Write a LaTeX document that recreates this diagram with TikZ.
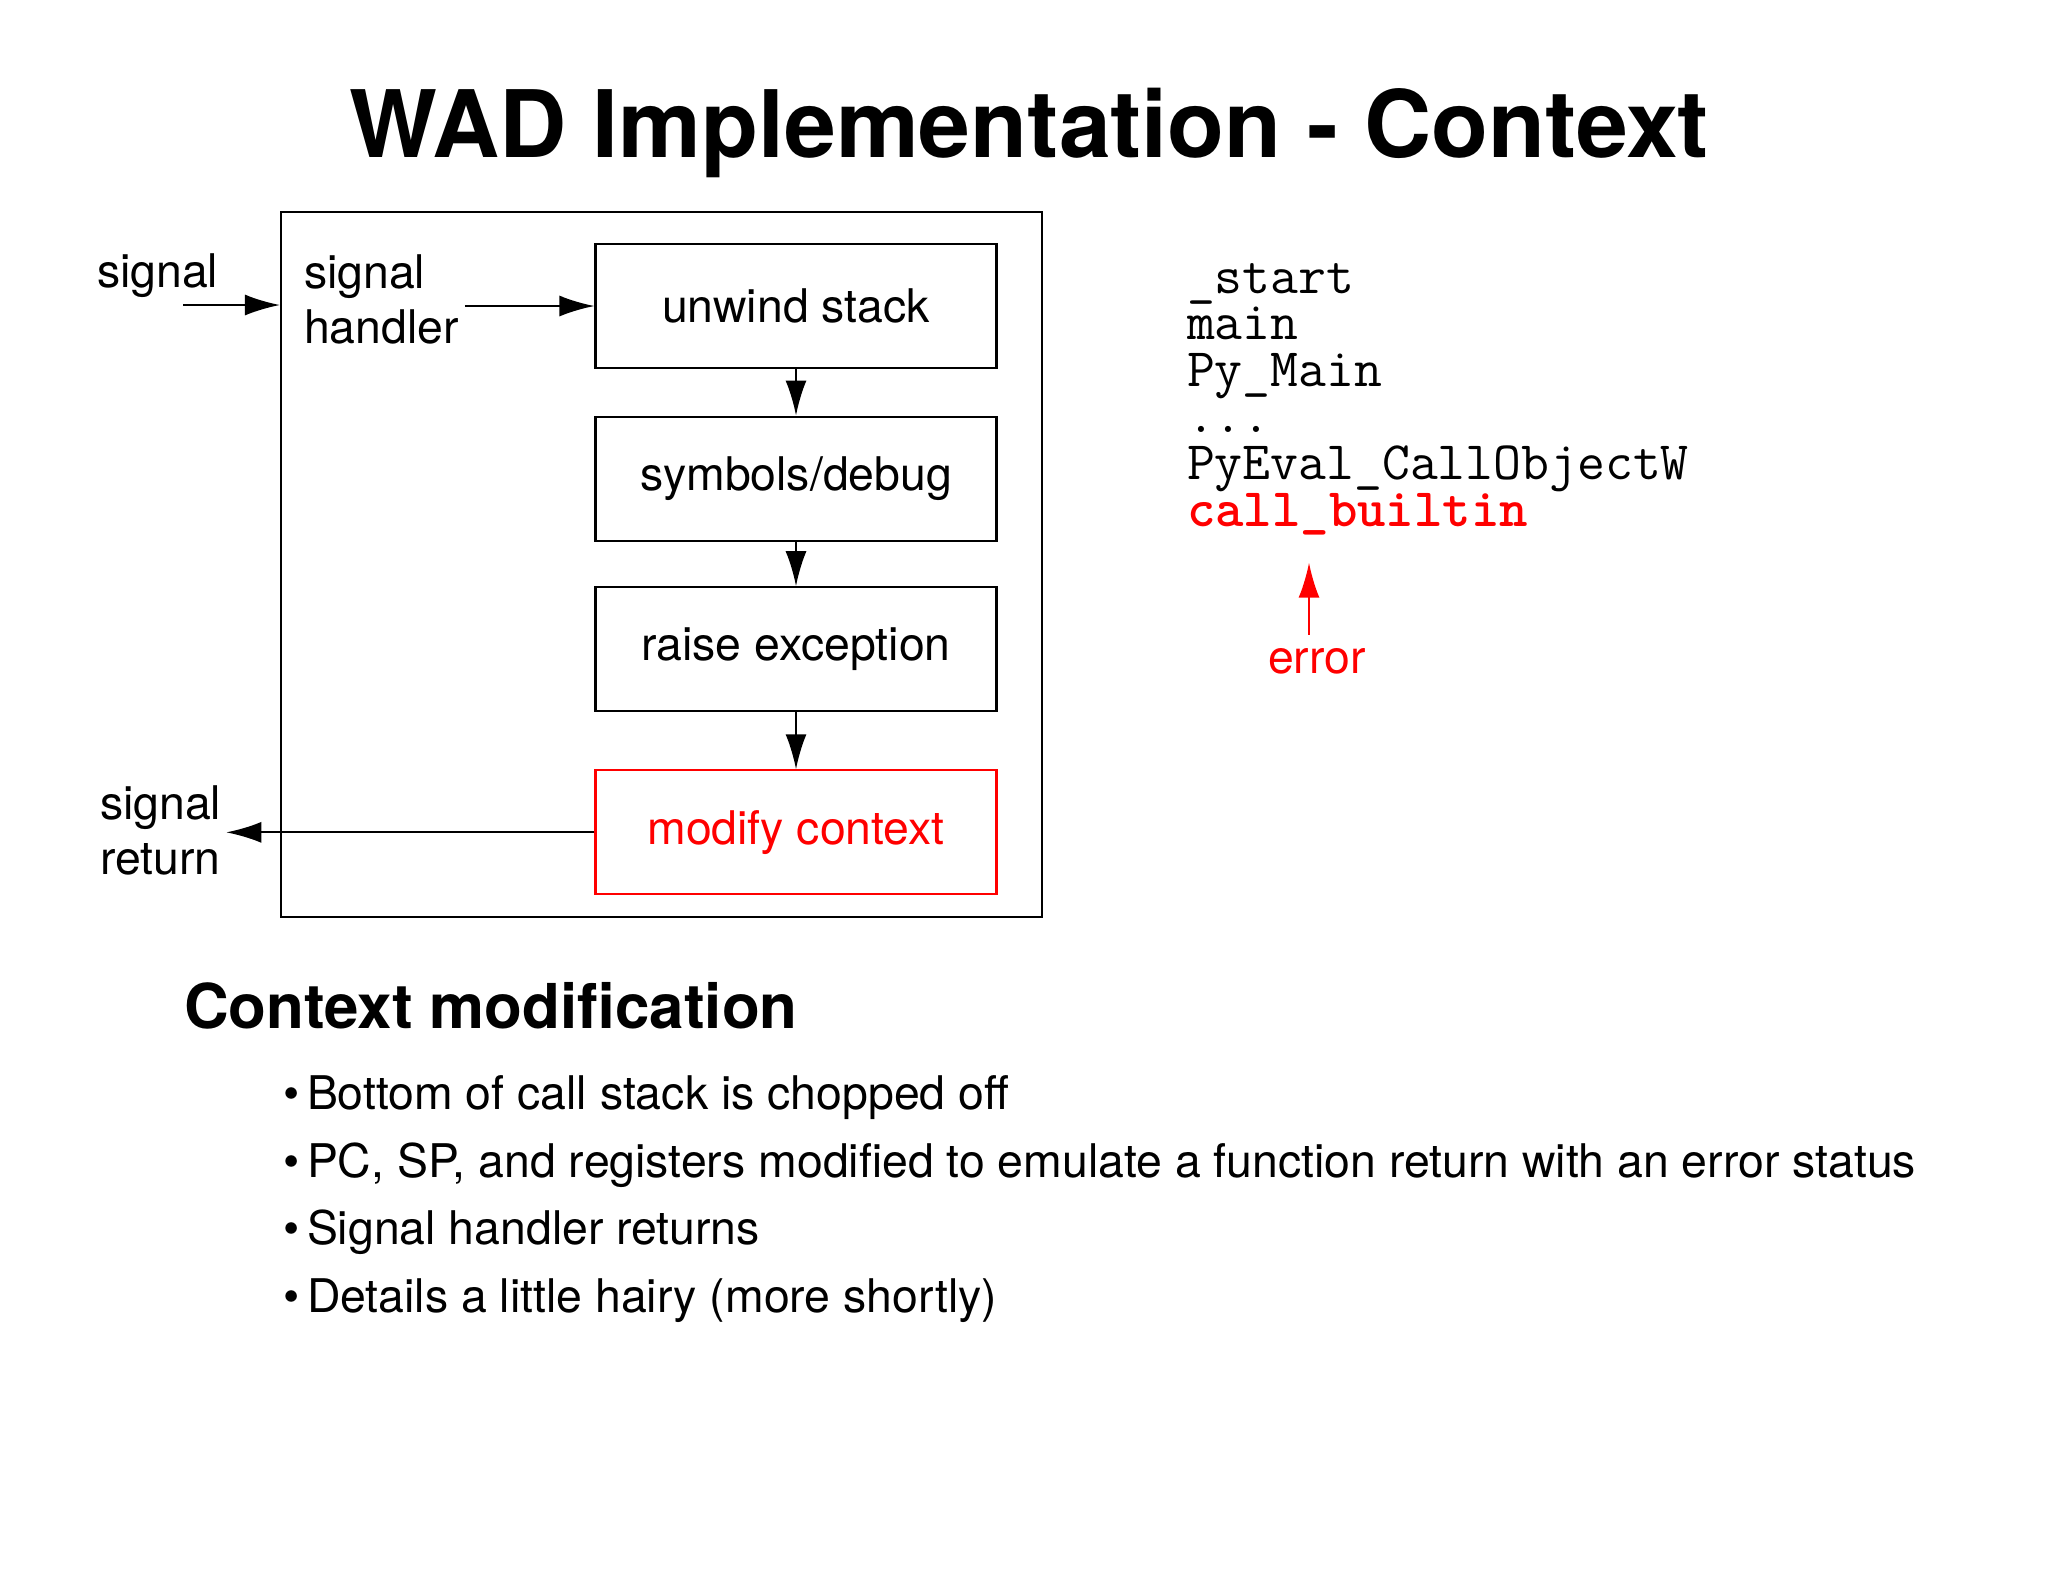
\documentclass[tikz,border=0pt]{standalone}
\usepackage{fontspec}
\setmainfont{TeX Gyre Heros}
\usetikzlibrary{positioning,arrows.meta}

\begin{document}
\begin{tikzpicture}[
                            x=0.1mm, y=-0.1mm,
                            node distance=5mm,
                            >={Latex[length=3.5mm,width=2.1mm]},
                            line width=0.6pt,
                            txt/.style={font=\fontsize{13.2}{15.6}\selectfont, inner sep=0pt},
                            stepbox/.style={rectangle, draw, minimum width=40.1mm, minimum height=12.4mm, inner sep=0pt, font=\fontsize{13.2}{15.6}\selectfont},
                            code/.style={anchor=base west, inner sep=0pt, align=left, font=\ttfamily\fontsize{15.4}{13.26}\selectfont},
                            bullet/.style={anchor=base west, inner sep=0pt, font=\fontsize{13.2}{15.6}\selectfont}
                        ]
                        \useasboundingbox (0,0) rectangle (2048,1582);

                        % Title
                        \node [anchor=base, font=\bfseries\fontsize{26.5}{30}\selectfont] (title) at (1029,157) {WAD Implementation - Context};

                        % Blocks
                        \node [rectangle, draw, minimum width=76.1mm, minimum height=70.5mm] (handlerbox) at (661.5,564.5) {};
                        \node [stepbox] (unwind) at (796,306) {unwind stack};
                        \node [stepbox, below=4.65mm of unwind] (symbols) {symbols/debug};
                        \node [stepbox, below=4.45mm of symbols] (raise) {raise exception};
                        \node [stepbox, below=5.7mm of raise, draw=red, text=red] (modify) {modify context};

                        % Labels
                        \node [txt, anchor=base west] (signal) at (96,287) {signal};
                        \node [txt, anchor=north west, align=left] (handler) at (303,254) {signal\\handler};
                        \node [txt, anchor=north west, align=left] (sigret) at (99,785) {signal\\return};
                        \coordinate (sigin) at (183,305);

                        % Call stack (base = last line)
                        \node [code] (callstack) at (1186,526) {\_start\\main\\Py\_Main\\...\\PyEval\_CallObjectW\\\textcolor{red}{\bfseries call\_builtin}};
                        \node [txt, anchor=base, text=red, inner sep=1.2mm] (error) at (1317,673) {error};

                        % Connections
                        \draw [->] (sigin) -- (sigin -| handlerbox.west);
                        \draw [->] ([xshift=0.5mm]handler.east |- unwind.west) -- (unwind.west);
                        \draw [->] (unwind) -- (symbols);
                        \draw [->] (symbols) -- (raise);
                        \draw [->] (raise) -- (modify);
                        \draw [->] (modify.west) -- ([xshift=0.4mm]sigret.east |- modify.west);
                        \draw [->, red, shorten >=2.7mm] ([xshift=-0.8mm]error.north) -- ([xshift=-0.8mm]error.north |- callstack.south);

                        % Context modification
                        \node [anchor=base west, inner sep=0pt, font=\bfseries\fontsize{17.6}{21}\selectfont] (ctxmod) at (183,1028) {Context modification};
                        \node [bullet] (item1) at (282,1109) {\makebox[2.4mm][l]{\textbullet}Bottom of call stack is chopped off};
                        \node [bullet] (item2) at (282,1177) {\makebox[2.4mm][l]{\textbullet}PC, SP, and registers modified to emulate a function return with an error status};
                        \node [bullet] (item3) at (282,1244) {\makebox[2.4mm][l]{\textbullet}Signal handler returns};
                        \node [bullet] (item4) at (282,1312) {\makebox[2.4mm][l]{\textbullet}Details a little hairy (more shortly)};
                    \end{tikzpicture}
\end{document}
